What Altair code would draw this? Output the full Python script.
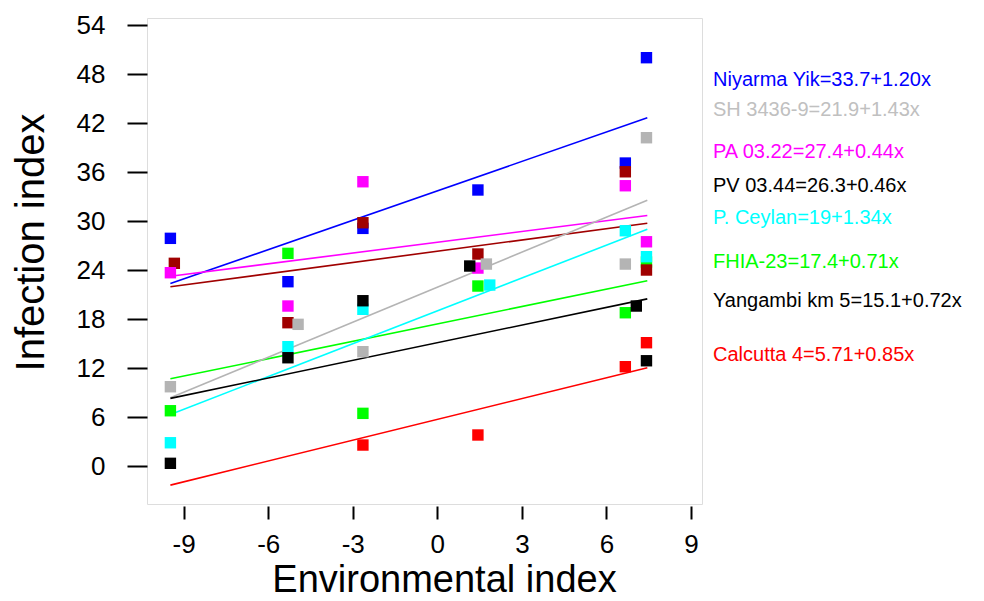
import altair as alt
import pandas as pd

# ---- data ----
series = ["FHIA-23", "Niyarma Yik", "PV 03.44", "PA 03.22", "P. Ceylan",
          "SH 3436-9", "Yangambi km 5", "Calcutta 4"]
colors = ["#00FF00", "#0000FF", "#A00000", "#FF00FF", "#00FFFF",
          "#B4B4B4", "#000000", "#FF0000"]

x_fhia = [-9.47, -5.30, -2.64, 1.44, 6.67, 7.42]
y_fhia = [6.77, 26.04, 6.45, 22.04, 18.77, 24.98]
x_niy = [-9.47, -5.30, -2.64, 1.44, 6.67, 7.42]
y_niy = [27.88, 22.57, 29.1, 33.8, 37.1, 50.0]
x_pv = [-9.33, -5.30, -2.64, 1.44, 6.67, 7.42]
y_pv = [24.82, 17.55, 29.79, 25.96, 36.03, 24.0]
x_pa = [-9.47, -5.30, -2.64, 1.44, 6.67, 7.42]
y_pa = [23.67, 19.59, 34.81, 24.24, 34.32, 27.46]
x_cey = [-9.47, -5.30, -2.64, 1.86, 6.67, 7.42]
y_cey = [2.85, 14.61, 19.19, 22.16, 28.81, 25.63]
x_sh = [-9.47, -4.94, -2.64, 1.74, 6.67, 7.42]
y_sh = [9.71, 17.35, 14.0, 24.73, 24.73, 40.2]
x_yan = [-9.47, -5.30, -2.64, 1.15, 7.06, 7.42]
y_yan = [0.33, 13.26, 20.24, 24.49, 19.59, 12.89]
x_cal = [-2.64, 1.44, 6.67, 7.42]
y_cal = [2.57, 3.80, 12.16, 15.1]

# regression equations printed on the chart (intercept, slope)
intercepts = [17.4, 33.7, 26.3, 27.4, 19.0, 21.9, 15.1, 5.71]
slopes = [0.71, 1.20, 0.46, 0.44, 1.34, 1.43, 0.72, 0.85]
env_range = [-9.47, 7.45]

legend_labels = ["Niyarma Yik=33.7+1.20x", "SH 3436-9=21.9+1.43x",
                 "PA 03.22=27.4+0.44x", "PV 03.44=26.3+0.46x",
                 "P. Ceylan=19+1.34x", "FHIA-23=17.4+0.71x",
                 "Yangambi km 5=15.1+0.72x", "Calcutta 4=5.71+0.85x"]
legend_colors = ["#0000FF", "#C0C0C0", "#FF00FF", "#000000",
                 "#00FFFF", "#00FF00", "#000000", "#FF0000"]
legend_baselines = [86, 116, 158, 192, 224, 268, 307, 361]

y_ticks = [0, 6, 12, 18, 24, 30, 36, 42, 48, 54]
x_ticks = [-9, -6, -3, 0, 3, 6, 9]

# ---- tables ----
xs = [x_fhia, x_niy, x_pv, x_pa, x_cey, x_sh, x_yan, x_cal]
ys = [y_fhia, y_niy, y_pv, y_pa, y_cey, y_sh, y_yan, y_cal]
rows = []
order = 0
for s, xl, yl in zip(series, xs, ys):
    for xv, yv in zip(xl, yl):
        rows.append({"series": s, "x": xv, "y": yv, "o": order})
        order += 1
pts = pd.DataFrame(rows)

lrows = []
for s, a, b in zip(series, intercepts, slopes):
    for xv in env_range:
        lrows.append({"series": s, "x": xv, "y": a + b * xv})
lines_df = pd.DataFrame(lrows)

FONT = "Liberation Sans"
X0, X1 = -10.30, 9.39
Y0, Y1 = -4.65, 54.86

xscale = alt.Scale(domain=[X0, X1], nice=False, zero=False)
yscale = alt.Scale(domain=[Y0, Y1], nice=False, zero=False)
cscale = alt.Scale(domain=series, range=colors)

xaxis = alt.Axis(values=x_ticks, title="Environmental index", grid=False,
                 domain=False, offset=2, tickSize=13, tickWidth=2,
                 tickColor="black", labelFontSize=26, labelPadding=12,
                 labelExpr="'' + datum.value",
                 labelColor="black", labelFont=FONT, titleFont=FONT,
                 titleFontSize=38, titleFontWeight="normal",
                 titleColor="black", titleX=297, titleY=85,
                 titleBaseline="alphabetic", titleAlign="center",
                 titleAnchor="start")
yaxis = alt.Axis(values=y_ticks, title="Infection index", grid=False,
                 domain=False, tickSize=20, tickWidth=2, tickColor="black",
                 labelFontSize=26, labelPadding=22, labelColor="black",
                 labelFont=FONT, titleFont=FONT, titleFontSize=40,
                 titleFontWeight="normal", titleColor="black",
                 titleX=-104, titleY=224, titleAngle=270,
                 titleBaseline="alphabetic", titleAlign="center",
                 titleAnchor="start")

line_layer = alt.Chart(lines_df).mark_line(strokeWidth=1.6, clip=True).encode(
    x=alt.X("x:Q", scale=xscale, axis=xaxis),
    y=alt.Y("y:Q", scale=yscale, axis=yaxis),
    color=alt.Color("series:N", scale=cscale, legend=None),
    detail="series:N",
)

pt_layer = alt.Chart(pts).mark_square(size=130, opacity=1, strokeWidth=0).encode(
    x=alt.X("x:Q", scale=xscale),
    y=alt.Y("y:Q", scale=yscale),
    color=alt.Color("series:N", scale=cscale, legend=None),
    order=alt.Order("o:Q"),
)

text_layers = []
for lab, col, bl in zip(legend_labels, legend_colors, legend_baselines):
    t = alt.Chart(pd.DataFrame({"t": [lab]})).mark_text(
        align="left", baseline="alphabetic", font=FONT, fontSize=20,
        color=col,
    ).encode(x=alt.value(566), y=alt.value(bl - 18), text="t:N")
    text_layers.append(t)

chart = alt.layer(line_layer, pt_layer, *text_layers).properties(
    width=555, height=486,
    autosize=alt.AutoSizeParams(type="none"),
    padding={"left": 139, "top": 10, "right": 274, "bottom": 89},
).configure_view(stroke="black", strokeWidth=2).configure(background="white")

chart.save("out.html", embed_options={"renderer": "svg", "actions": False})
